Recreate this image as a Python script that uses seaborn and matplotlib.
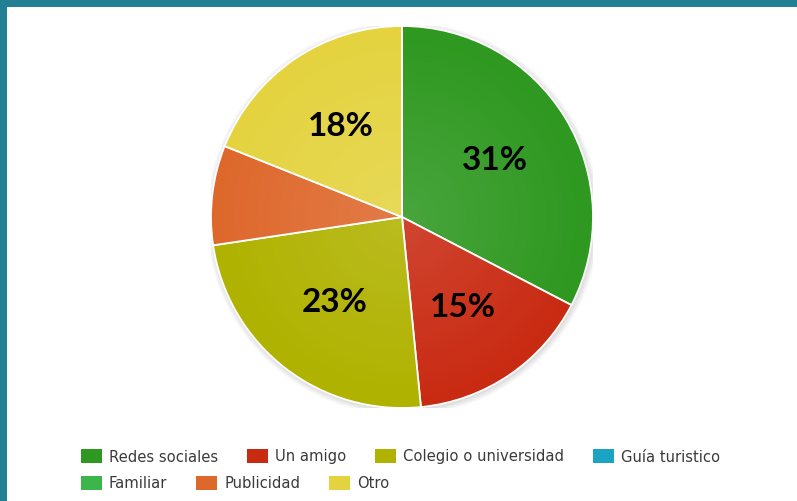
import numpy as np
import matplotlib
matplotlib.use("Agg")
import matplotlib.pyplot as plt
import seaborn as sns
from matplotlib.patches import Rectangle, Circle

# Survey answers: how respondents heard about us
categories = ["Redes sociales", "Un amigo", "Colegio o universidad",
              "Guía turistico", "Familiar", "Publicidad", "Otro"]
values = [31, 15, 23, 0, 0, 8, 18]
colors = ["#2e9820", "#c92a12", "#b0b200", "#1ba3c4", "#3cb54a", "#de682c", "#e4d33f"]
legend_rows = [["Redes sociales", "Un amigo", "Colegio o universidad", "Guía turistico"],
               ["Familiar", "Publicidad", "Otro"]]

sns.set_theme(style="white")
plt.rcParams["font.family"] = ["DejaVu Sans"]

W, H = 797, 501
fig = plt.figure(figsize=(W / 100, H / 100), dpi=100)
fig.patch.set_facecolor("white")

# teal frame along the top and left edges
frame_col = "#237f93"
fig.patches.append(Rectangle((0, 1 - 7 / H), 1, 7 / H, transform=fig.transFigure,
                             facecolor=frame_col, edgecolor="none", zorder=0))
fig.patches.append(Rectangle((0, 0), 7 / W, 1, transform=fig.transFigure,
                             facecolor=frame_col, edgecolor="none", zorder=0))

# pie axes: centre and radius in pixels
cx, cy, R = 402, 217, 191
ax = fig.add_axes([(cx - R) / W, 1 - (cy + R) / H, 2 * R / W, 2 * R / H])

palette = sns.color_palette(colors)
shown = [(v, c) for v, c in zip(values, palette) if v > 0]
shown_vals = [v for v, _ in shown]
shown_cols = [c for _, c in shown]

# soft shadow behind the pie
for k in range(6):
    ax.add_patch(Circle((0.006, -0.008), 1.0 + 0.006 * k, facecolor="#000000",
                        alpha=0.022, edgecolor="none", zorder=0))

wedges, _ = ax.pie(shown_vals, colors=shown_cols, startangle=90, counterclock=False,
                   radius=1.0, wedgeprops=dict(edgecolor="white", linewidth=1.3, zorder=2))

# radial highlight, a little brighter towards the centre
n = 400
xs = np.linspace(-1, 1, n)
X, Y = np.meshgrid(xs, xs)
r = np.sqrt(X ** 2 + Y ** 2)
rgba = np.ones((n, n, 4))
rgba[..., 3] = np.clip(0.13 * (1 - r), 0, 1)
rgba[r > 1, 3] = 0
img = ax.imshow(rgba, extent=(-1, 1, -1, 1), origin="lower", zorder=3, interpolation="bilinear")
img.set_clip_path(Circle((0, 0), 1.0, transform=ax.transData))

# value labels inside the slices
for w, v in zip(wedges, shown_vals):
    if v < 10:
        continue
    th = np.deg2rad((w.theta1 + w.theta2) / 2)
    d = 0.57
    ax.text(d * np.cos(th), d * np.sin(th), f"{v}%", ha="center", va="center",
            fontsize=24, fontweight="bold", family=["Lato", "DejaVu Sans"],
            color="black", zorder=5)

ax.set_xlim(-1, 1)
ax.set_ylim(-1, 1)
ax.set_aspect("equal")
ax.axis("off")

# legend laid out as a flowing row of swatches
color_of = dict(zip(categories, palette))
fig.canvas.draw()
renderer = fig.canvas.get_renderer()
row_y = [456, 483]
for row, yc in zip(legend_rows, row_y):
    x = 81
    for name in row:
        sw_w, sw_h = 21, 14
        fig.patches.append(Rectangle((x / W, 1 - (yc + sw_h / 2) / H), sw_w / W, sw_h / H,
                                     transform=fig.transFigure, facecolor=color_of[name],
                                     edgecolor="none", zorder=3))
        t = fig.text((x + sw_w + 7) / W, 1 - (yc + 1) / H, name, ha="left", va="center",
                     fontsize=10.6, color="#3a3a3a")
        bb = t.get_window_extent(renderer=renderer)
        x = bb.x1 + 29

fig.savefig("out.png", dpi=100, facecolor="white")
